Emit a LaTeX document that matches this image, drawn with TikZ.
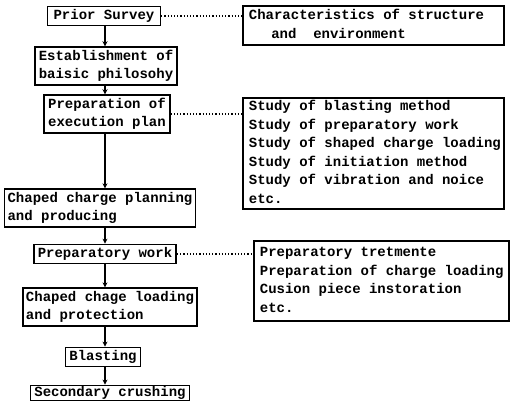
\documentclass[tikz,border=0pt]{standalone}
\usepackage{fontspec}
\setmonofont{Liberation Mono}
\usetikzlibrary{arrows.meta}
\newcommand{\notelines}[2]{\makebox[#1][l]{\begin{tabular}{@{}l@{}}#2\end{tabular}}}

\begin{document}
\begin{tikzpicture}
[every node/.style={inner sep=0pt, font=\ttfamily\bfseries\fontsize{14pt}{18.5pt}\selectfont},
 stepbox/.style={draw=black, line width=1.7pt, align=left, inner xsep=4pt, inner ysep=3pt},
 notebox/.style={draw=black, line width=1.7pt, inner xsep=6pt, inner ysep=3pt, anchor=north west},
 flow/.style={line width=1.5pt, -{Stealth[length=5pt,width=5pt]}},
 link/.style={line width=1.2pt, dotted}]
\useasboundingbox (0pt,0pt) rectangle (511pt,-409pt);
\coordinate (spine) at (105pt, 0pt);
\node (survey) [stepbox, inner xsep=6pt] at (104pt, -16pt) {Prior Survey};
\node (basis) [stepbox] at (106pt, -66pt) {Establishment of\\baisic philosohy};
\node (plan) [stepbox] at (107pt, -114pt) {Preparation of\\execution plan};
\node (charge) [stepbox, inner xsep=3pt] at (100pt, -208pt) {Chaped charge planning\\and producing};
\node (prep) [stepbox] at (105pt, -254pt) {Preparatory work};
\node (loading) [stepbox, inner xsep=3pt] at (110pt, -307pt) {Chaped chage loading\\and protection};
\node (blast) [stepbox] at (103pt, -357pt) {Blasting};
\node (crush) [stepbox, inner ysep=1pt] at (110pt, -393pt) {Secondary crushing};
\node (site) [notebox, inner ysep=1pt] at (242pt, -5pt) {\notelines{249pt}{Characteristics of structure\\\hspace{1.6em}and\ \ environment}};
\node (study) [notebox, inner ysep=0pt] at (242pt, -97pt) {\notelines{249pt}{Study of blasting method\\Study of preparatory work\\Study of shaped charge loading\\Study of initiation method\\Study of vibration and noice\\etc.}};
\node (works) [notebox] at (253pt, -240pt) {\notelines{243pt}{Preparatory tretmente\\Preparation of charge loading\\Cusion piece instoration\\etc.}};
\draw [flow] (survey.south -| spine) to (basis.north -| spine);
\draw [flow] (basis.south -| spine) to (plan.north -| spine);
\draw [flow] (plan.south -| spine) to (charge.north -| spine);
\draw [flow] (charge.south -| spine) to (prep.north -| spine);
\draw [flow] (prep.south -| spine) to (loading.north -| spine);
\draw [flow] (loading.south -| spine) to (blast.north -| spine);
\draw [flow] (blast.south -| spine) to (crush.north -| spine);
\draw [link] (survey.east) to (survey.east -| site.west);
\draw [link] (plan.east) to (plan.east -| study.west);
\draw [link] (prep.east) to (prep.east -| works.west);
\end{tikzpicture}
\end{document}
